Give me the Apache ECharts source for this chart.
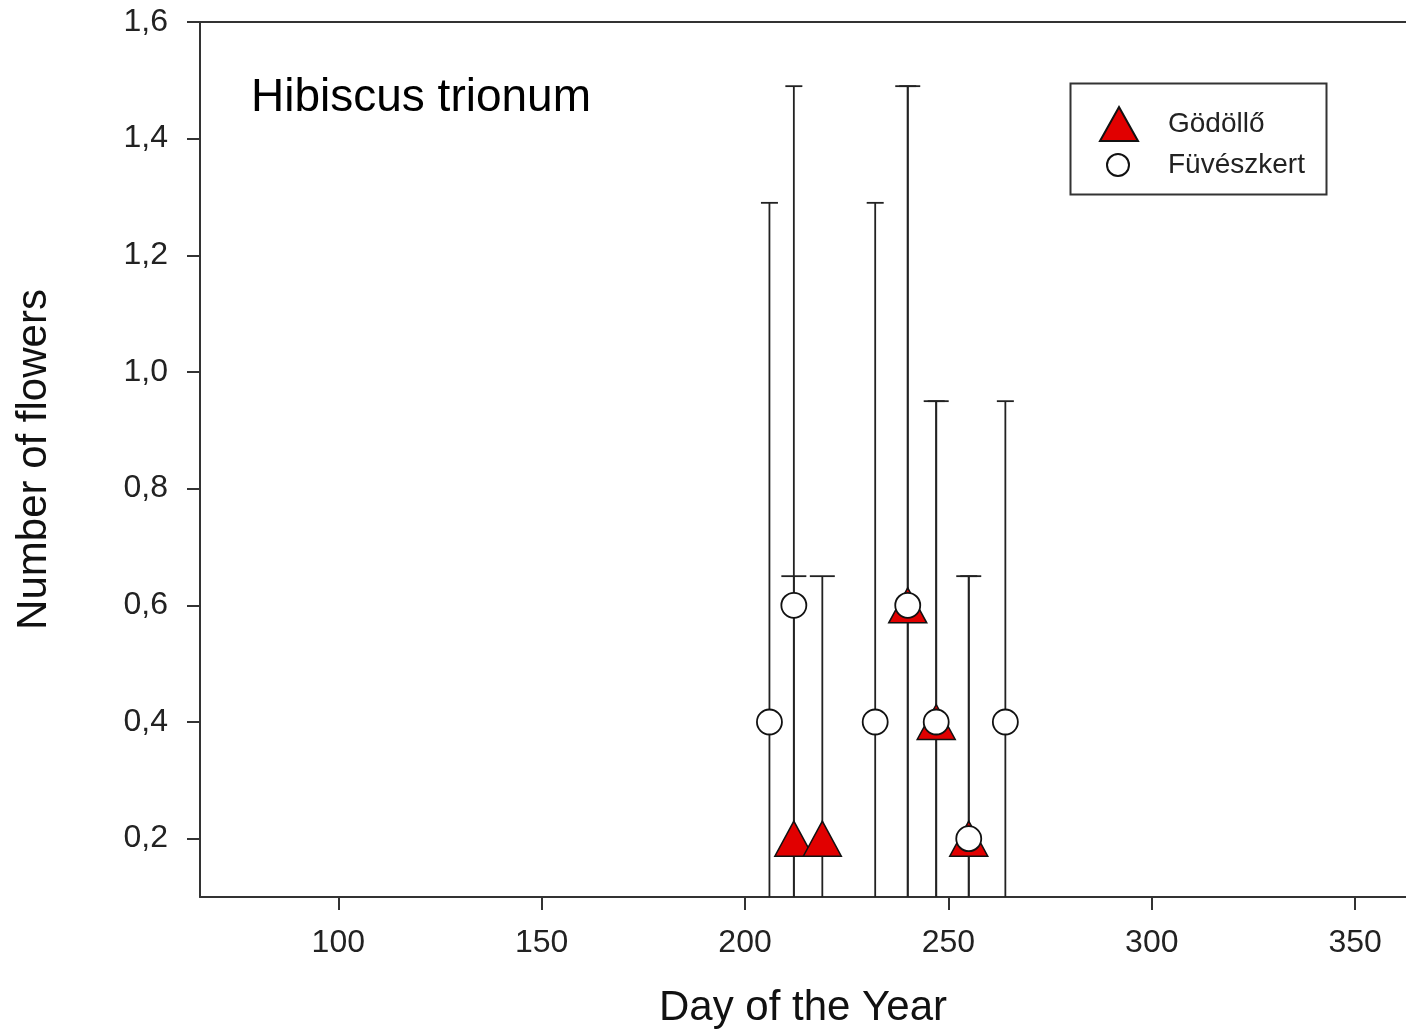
<!DOCTYPE html>
<html>
<head>
<meta charset="utf-8">
<script src="https://cdn.jsdelivr.net/npm/echarts@6/dist/echarts.min.js"></script>
<style>
  html, body { margin: 0; padding: 0; background: #fff; }
  #chart { width: 1406px; height: 1034px; }
</style>
</head>
<body>
<div id="chart"></div>
<script>
// Gödöllő (red triangles)
const godolloDays = [212, 219, 240, 247, 255];
const godolloMeans = [0.2, 0.2, 0.6, 0.4, 0.2];
const godolloSD = [0.45, 0.45, 0.89, 0.55, 0.45];

// Füvészkert (open circles)
const fuveszDays = [206, 212, 232, 240, 247, 255, 264];
const fuveszMeans = [0.4, 0.6, 0.4, 0.6, 0.4, 0.2, 0.4];
const fuveszSD = [0.89, 0.89, 0.89, 0.89, 0.55, 0.45, 0.55];

const xTicks = [100, 150, 200, 250, 300, 350];
const yTicks = [0.2, 0.4, 0.6, 0.8, 1.0, 1.2, 1.4, 1.6];

const FONT = '"Liberation Sans", Arial, sans-serif';

const points = (days, means) => days.map((d, i) => [d, means[i]]);
const bars = (days, means, sd) => days.map((d, i) => [d, means[i] - sd[i], means[i] + sd[i]]);

// error bar: vertical line + caps, clipped by the grid
const errorBar = (capHalf) => (params, api) => {
  const x = api.value(0);
  const lo = api.coord([x, api.value(1)]);
  const hi = api.coord([x, api.value(2)]);
  const style = { stroke: '#222', lineWidth: 1.8 };
  return {
    type: 'group',
    children: [
      { type: 'line', shape: { x1: hi[0], y1: hi[1], x2: lo[0], y2: lo[1] }, style },
      { type: 'line', shape: { x1: hi[0] - capHalf, y1: hi[1], x2: hi[0] + capHalf, y2: hi[1] }, style },
      { type: 'line', shape: { x1: lo[0] - capHalf, y1: lo[1], x2: lo[0] + capHalf, y2: lo[1] }, style }
    ]
  };
};

const axisLineStyle = { color: '#333', width: 2 };

const chart = echarts.init(document.getElementById('chart'));
chart.setOption({
  animation: false,
  backgroundColor: '#fff',
  grid: { left: 200, top: 22, width: 1206, height: 876 },
  xAxis: [
    {
      type: 'value', min: 66, max: 362.5,
      name: 'Day of the Year', nameLocation: 'middle', nameGap: 90,
      nameTextStyle: { fontFamily: FONT, fontSize: 42, color: '#111' },
      axisLine: { lineStyle: axisLineStyle },
      axisTick: { show: true, length: 13, customValues: xTicks, lineStyle: axisLineStyle },
      axisLabel: { customValues: xTicks, margin: 30, fontFamily: FONT, fontSize: 32, color: '#222' },
      splitLine: { show: false }
    },
    {
      // top frame line
      type: 'value', position: 'top', min: 66, max: 362.5,
      axisLine: { show: true, onZero: false, lineStyle: axisLineStyle },
      axisTick: { show: false }, axisLabel: { show: false }, splitLine: { show: false }
    }
  ],
  yAxis: {
    type: 'value', min: 0.1, max: 1.6,
    name: 'Number of flowers', nameLocation: 'middle', nameGap: 145, nameRotate: 90,
    nameTextStyle: { fontFamily: FONT, fontSize: 42, color: '#111' },
    axisLine: { show: true, lineStyle: axisLineStyle },
    axisTick: { show: true, length: 13, customValues: yTicks, lineStyle: axisLineStyle },
    axisLabel: {
      customValues: yTicks, margin: 32, fontFamily: FONT, fontSize: 32, color: '#222',
      formatter: v => v.toFixed(1).replace('.', ',')
    },
    splitLine: { show: false }
  },
  title: {
    text: 'Hibiscus trionum', left: 246, top: 70,
    textStyle: { fontFamily: FONT, fontSize: 46, fontWeight: 'normal', color: '#000' }
  },
  legend: [
    {
      data: ['Gödöllő'], left: 1099, top: 106, padding: 0,
      itemWidth: 38, itemHeight: 34, selectedMode: false,
      formatter: '{t|{name}}',
      textStyle: { rich: { t: { fontFamily: FONT, fontSize: 28, color: '#222', padding: [0, 0, 0, 25] } } }
    },
    {
      data: ['Füvészkert'], left: 1106, top: 151, padding: 0,
      itemWidth: 22, itemHeight: 22, selectedMode: false,
      formatter: '{t|{name}}',
      textStyle: { rich: { t: { fontFamily: FONT, fontSize: 28, color: '#222', padding: [0, 0, 0, 34] } } }
    }
  ],
  graphic: [{
    type: 'rect', left: 1068, top: 81,
    shape: { width: 256, height: 111 },
    style: { fill: 'none', stroke: '#333', lineWidth: 2 }
  }],
  series: [
    {
      name: 'Gödöllő SD', type: 'custom', clip: true, z: 2,
      data: bars(godolloDays, godolloMeans, godolloSD),
      renderItem: errorBar(12.5)
    },
    {
      name: 'Füvészkert SD', type: 'custom', clip: true, z: 2,
      data: bars(fuveszDays, fuveszMeans, fuveszSD),
      renderItem: errorBar(8.5)
    },
    {
      name: 'Gödöllő', type: 'scatter', z: 3,
      symbol: 'triangle', symbolSize: [38, 35],
      itemStyle: { color: '#e10000', borderColor: '#111', borderWidth: 1.5, opacity: 1 },
      data: points(godolloDays, godolloMeans)
    },
    {
      name: 'Füvészkert', type: 'scatter', z: 4,
      symbol: 'circle', symbolSize: 25,
      itemStyle: { color: '#fff', borderColor: '#111', borderWidth: 1.8, opacity: 1 },
      data: points(fuveszDays, fuveszMeans)
    }
  ]
});
</script>
</body>
</html>
